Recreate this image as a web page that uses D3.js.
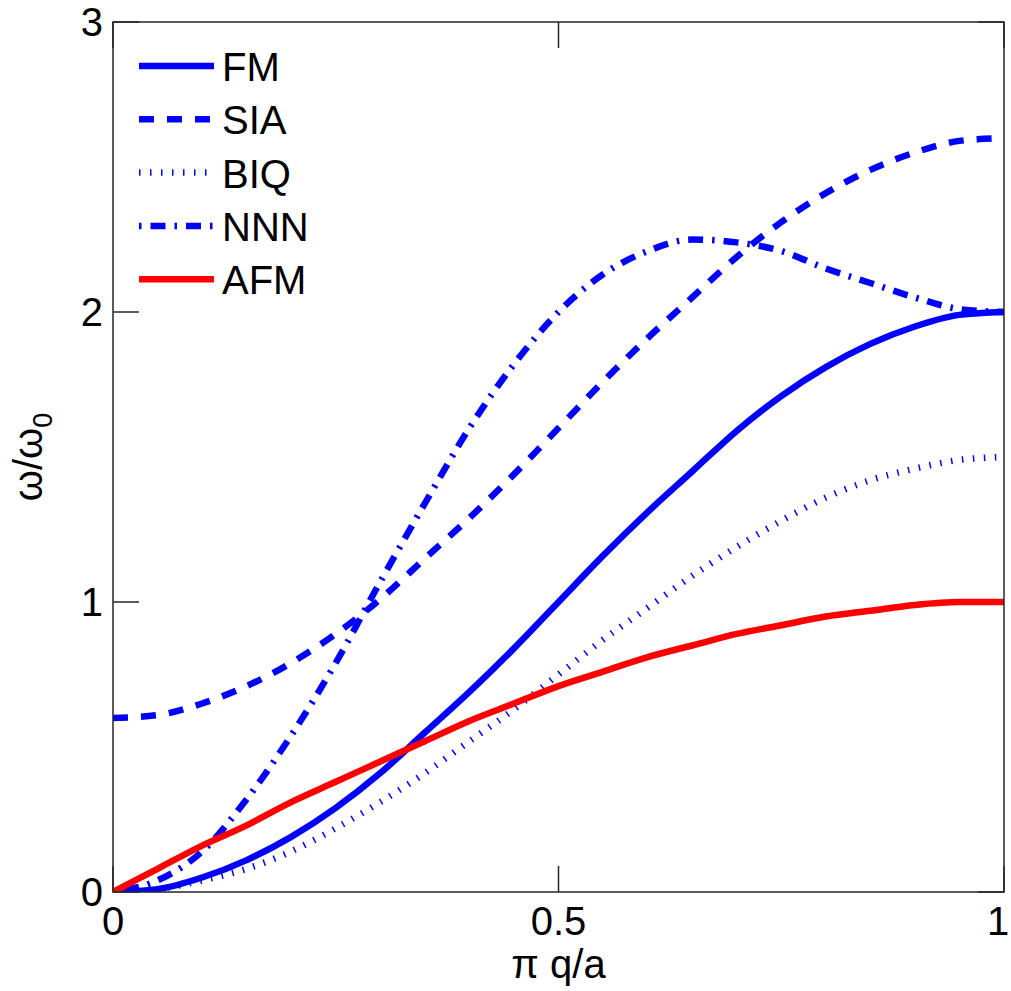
<!DOCTYPE html>
<html>
<head>
<meta charset="utf-8">
<script src="https://cdn.jsdelivr.net/npm/d3@7"></script>
<style>
  body { margin: 0; background: #fff; }
  text { font-family: "Liberation Sans", Arial, sans-serif; fill: #000; }
</style>
</head>
<body>
<div id="chart"></div>
<script>
////////////////////////////// DATA ////////////////////////////////////

// q in units of pi/a
const qValues = [0, 0.05, 0.1, 0.15, 0.2, 0.25, 0.3, 0.35, 0.4, 0.45, 0.5,
  0.55, 0.6, 0.65, 0.7, 0.75, 0.8, 0.85, 0.9, 0.95, 1];

const fmValues = [0, 0.01, 0.05, 0.11, 0.19, 0.29, 0.41, 0.55, 0.69, 0.84, 1.0,
  1.16, 1.31, 1.45, 1.59, 1.71, 1.81, 1.89, 1.95, 1.99, 2.0];
const siaValues = [0.6, 0.61, 0.65, 0.71, 0.79, 0.89, 1.01, 1.15, 1.29, 1.44, 1.6,
  1.76, 1.91, 2.05, 2.19, 2.31, 2.41, 2.49, 2.55, 2.59, 2.6];
const biqValues = [0, 0.01, 0.04, 0.08, 0.14, 0.22, 0.31, 0.41, 0.52, 0.63, 0.75,
  0.87, 0.98, 1.09, 1.19, 1.28, 1.36, 1.42, 1.46, 1.49, 1.5];
const nnnValues = [0, 0.04, 0.14, 0.32, 0.54, 0.79, 1.07, 1.34, 1.6, 1.82, 2.0,
  2.13, 2.21, 2.25, 2.24, 2.21, 2.15, 2.1, 2.05, 2.01, 2.0];
const afmValues = [0, 0.08, 0.16, 0.23, 0.31, 0.38, 0.45, 0.52, 0.59, 0.65, 0.71,
  0.76, 0.81, 0.85, 0.89, 0.92, 0.95, 0.97, 0.99, 1.0, 1.0];

const seriesNames = ["FM", "SIA", "BIQ", "NNN", "AFM"];
const xTicks = [0, 0.5, 1];
const yTicks = [0, 1, 2, 3];

////////////////////////////// SET UP ////////////////////////////////////

const width = 1011;
const height = 991;
const margin = { top: 22, right: 7, bottom: 99, left: 113 };

const svg = d3.select("#chart")
  .append("svg")
  .attr("width", width)
  .attr("height", height);

const x = d3.scaleLinear().domain([0, 1]).range([margin.left, width - margin.right]);
const y = d3.scaleLinear().domain([0, 3]).range([height - margin.bottom, margin.top]);

// line styles (matlab-ish)
const styles = {
  FM: { color: "#0000ff", dash: null, w: 6.5 },
  SIA: { color: "#0000ff", dash: "15,13", w: 6.5 },
  BIQ: { color: "#0000ff", dash: "1.5,9.5", w: 6.5 },
  NNN: { color: "#0000ff", dash: "2.5,9,15,9", w: 6.5 },
  AFM: { color: "#ff0000", dash: null, w: 6.5 }
};

const seriesData = {
  FM: fmValues, SIA: siaValues, BIQ: biqValues, NNN: nnnValues, AFM: afmValues
};

////////////////////////////// AXES ////////////////////////////////////

const axisColor = "#262626";
const tickLen = 26;

svg.append("defs").append("clipPath").attr("id", "plotclip")
  .append("rect")
  .attr("x", x(0)).attr("y", y(3))
  .attr("width", x(1) - x(0)).attr("height", y(0) - y(3));

// ticks on all four sides, pointing inward
const tickG = svg.append("g").attr("stroke", axisColor).attr("stroke-width", 1.5);
xTicks.forEach((t) => {
  tickG.append("line").attr("x1", x(t)).attr("x2", x(t)).attr("y1", y(0)).attr("y2", y(0) - tickLen);
  tickG.append("line").attr("x1", x(t)).attr("x2", x(t)).attr("y1", y(3)).attr("y2", y(3) + tickLen);
});
yTicks.forEach((t) => {
  tickG.append("line").attr("x1", x(0)).attr("x2", x(0) + tickLen).attr("y1", y(t)).attr("y2", y(t));
  tickG.append("line").attr("x1", x(1)).attr("x2", x(1) - tickLen).attr("y1", y(t)).attr("y2", y(t));
});

// tick labels (last one nudged left so it stays on the page)
svg.selectAll(".xlabel")
  .data(xTicks)
  .join("text")
  .attr("class", "xlabel")
  .attr("x", (d) => (d === 1 ? x(d) - 6 : x(d)))
  .attr("y", y(0) + 43)
  .attr("text-anchor", "middle")
  .style("font-size", "40px")
  .text((d) => d);

svg.selectAll(".ylabel")
  .data(yTicks)
  .join("text")
  .attr("class", "ylabel")
  .attr("x", x(0) - 10)
  .attr("y", (d) => y(d) + 14)
  .attr("text-anchor", "end")
  .style("font-size", "40px")
  .text((d) => d);

// axis titles
svg.append("text")
  .attr("x", (x(0) + x(1)) / 2)
  .attr("y", 978)
  .attr("text-anchor", "middle")
  .style("font-size", "40px")
  .text("π q/a");

const yTitle = svg.append("text")
  .attr("transform", `translate(42, ${(y(0) + y(3)) / 2}) rotate(-90)`)
  .attr("text-anchor", "middle")
  .style("font-size", "40px");
yTitle.append("tspan").text("ω/ω");
yTitle.append("tspan").attr("dy", 10).style("font-size", "27px").text("0");

////////////////////////////// LINES ////////////////////////////////////

const line = d3.line()
  .x((d) => x(d[0]))
  .y((d) => y(d[1]))
  .curve(d3.curveMonotoneX);

const plotG = svg.append("g").attr("clip-path", "url(#plotclip)");

seriesNames.forEach((name) => {
  const pts = qValues.map((q, i) => [q, seriesData[name][i]]);
  const s = styles[name];
  plotG.append("path")
    .datum(pts)
    .attr("fill", "none")
    .attr("stroke", s.color)
    .attr("stroke-width", s.w)
    .attr("stroke-dasharray", s.dash)
    .attr("stroke-linejoin", "round")
    .attr("d", line);
});

// frame
svg.append("rect")
  .attr("x", x(0)).attr("y", y(3))
  .attr("width", x(1) - x(0)).attr("height", y(0) - y(3))
  .attr("fill", "none")
  .attr("stroke", axisColor)
  .attr("stroke-width", 1.5);

////////////////////////////// LEGEND ////////////////////////////////////

const legend = svg.append("g");
const legendTop = 66;
const legendStep = 53.3;

seriesNames.forEach((name, i) => {
  const s = styles[name];
  const ly = legendTop + i * legendStep;
  legend.append("line")
    .attr("x1", 139).attr("x2", 214)
    .attr("y1", ly).attr("y2", ly)
    .attr("stroke", s.color)
    .attr("stroke-width", s.w)
    .attr("stroke-dasharray", s.dash);
  legend.append("text")
    .attr("x", 222)
    .attr("y", ly + 15)
    .style("font-size", "40px")
    .text(name);
});
</script>
</body>
</html>
